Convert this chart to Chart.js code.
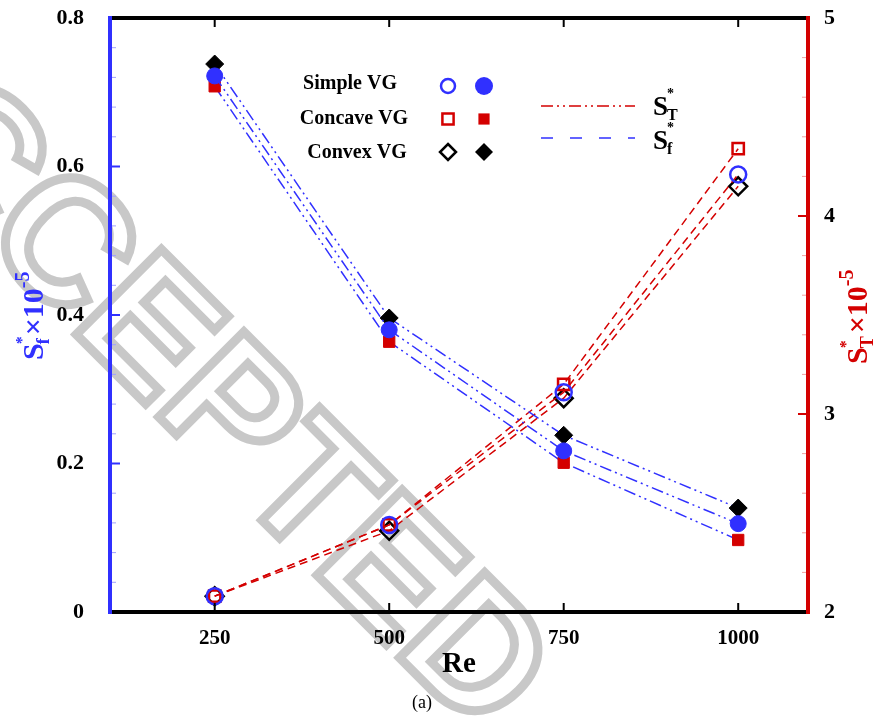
<!DOCTYPE html>
<html>
<head>
<meta charset="utf-8">
<script src="https://cdn.jsdelivr.net/npm/chart.js@4/dist/chart.umd.min.js"></script>
<style>
  body { margin: 0; background: #fff; }
  #wrap { position: relative; width: 887px; height: 726px; }
</style>
</head>
<body>
<div id="wrap"><canvas id="chart" width="887" height="726"></canvas></div>
<script>
// Re values on the x axis
const reValues = [250, 500, 750, 1000];

// S*f x 10^-5 (left axis, filled markers)
const sfSimple  = [0.722, 0.380, 0.217, 0.119];
const sfConcave = [0.708, 0.364, 0.201, 0.097];
const sfConvex  = [0.738, 0.396, 0.238, 0.140];

// S*T x 10^-5 (right axis, hollow markers)
const stSimple  = [2.08, 2.44, 3.11, 4.21];
const stConcave = [2.08, 2.44, 3.15, 4.34];
const stConvex  = [2.08, 2.41, 3.08, 4.15];

const xTicks  = [250, 500, 750, 1000];
const yTicks  = [0, 0.2, 0.4, 0.6, 0.8];
const y2Ticks = [2, 3, 4, 5];

const BLUE = '#3030ff';
const RED = '#d40000';
const SERIF = '"Liberation Serif", "DejaVu Serif", serif';

function pts(arr) {
  return reValues.map((r, i) => ({ x: r, y: arr[i] }));
}

function sfSet(label, arr, style, color) {
  return {
    label: label, data: pts(arr), yAxisID: 'y',
    borderColor: BLUE, borderWidth: 1.5, borderDash: [12, 4, 2, 4, 2, 4],
    pointStyle: style, pointRadius: style === 'rectRot' ? 9 : 8,
    pointBackgroundColor: color, pointBorderColor: color, pointBorderWidth: 1,
    order: 1
  };
}

function stSet(label, arr, style, color) {
  return {
    label: label, data: pts(arr), yAxisID: 'y2',
    borderColor: RED, borderWidth: 1.5, borderDash: [8, 5],
    pointStyle: style, pointRadius: style === 'rectRot' ? 9 : 8,
    pointBackgroundColor: 'rgba(255,255,255,0)', pointBorderColor: color, pointBorderWidth: 2.5,
    order: 2
  };
}

// gray "ACCEPTED" watermark behind the plot
const watermark = {
  id: 'watermark',
  beforeDraw(chart) {
    const ctx = chart.ctx;
    ctx.save();
    ctx.font = 'bold 175px "Liberation Sans", sans-serif';
    ctx.translate(470, 660);
    ctx.rotate(45 * Math.PI / 180);
    const off = ctx.measureText('ACCEPTE').width + ctx.measureText('D').width / 2;
    ctx.textBaseline = 'middle';
    ctx.lineWidth = 9;
    ctx.strokeStyle = '#c8c8c8';
    ctx.strokeText('ACCEPTED', -off, 0);
    ctx.restore();
  }
};

function drawRich(ctx, parts, x, y) {
  // parts: [text, size, dy, extra gap]
  let cx = x;
  parts.forEach(p => {
    ctx.font = 'bold ' + p[1] + 'px ' + SERIF;
    ctx.fillText(p[0], cx, y + p[2]);
    cx += ctx.measureText(p[0]).width + (p[3] || 0);
  });
  return cx - x;
}

function marker(ctx, style, x, y, r, color, filled) {
  ctx.save();
  ctx.beginPath();
  if (style === 'circle') {
    ctx.arc(x, y, r, 0, Math.PI * 2);
  } else if (style === 'rect') {
    ctx.rect(x - r * 0.8, y - r * 0.8, r * 1.6, r * 1.6);
  } else {
    ctx.moveTo(x, y - r); ctx.lineTo(x + r, y); ctx.lineTo(x, y + r); ctx.lineTo(x - r, y); ctx.closePath();
  }
  if (filled) { ctx.fillStyle = color; ctx.fill(); }
  else { ctx.lineWidth = 2.5; ctx.strokeStyle = color; ctx.stroke(); }
  ctx.restore();
}

const frame = {
  id: 'frame',
  afterDraw(chart) {
    const ctx = chart.ctx;
    const a = chart.chartArea;
    const sx = chart.scales.x, sy = chart.scales.y, sy2 = chart.scales.y2;
    ctx.save();

    // inward ticks
    ctx.lineWidth = 2;
    ctx.strokeStyle = '#000';
    xTicks.forEach(v => {
      const px = sx.getPixelForValue(v);
      ctx.beginPath(); ctx.moveTo(px, a.bottom); ctx.lineTo(px, a.bottom - 9); ctx.stroke();
      ctx.beginPath(); ctx.moveTo(px, a.top); ctx.lineTo(px, a.top + 9); ctx.stroke();
    });
    for (let v = 0; v <= 0.8001; v += 0.04) {
      const py = sy.getPixelForValue(v);
      const major = Math.abs(v / 0.2 - Math.round(v / 0.2)) < 1e-6;
      ctx.strokeStyle = major ? BLUE : '#a0a0ff';
      ctx.lineWidth = major ? 2 : 1;
      ctx.beginPath(); ctx.moveTo(a.left, py); ctx.lineTo(a.left + (major ? 10 : 6), py); ctx.stroke();
    }
    for (let v = 2; v <= 5.0001; v += 0.2) {
      const py = sy2.getPixelForValue(v);
      const major = Math.abs(v - Math.round(v)) < 1e-6;
      ctx.strokeStyle = major ? RED : '#f0a0a0';
      ctx.lineWidth = major ? 2 : 1;
      ctx.beginPath(); ctx.moveTo(a.right, py); ctx.lineTo(a.right - (major ? 10 : 6), py); ctx.stroke();
    }

    // thick frame
    ctx.lineWidth = 4;
    ctx.strokeStyle = '#000';
    ctx.beginPath(); ctx.moveTo(a.left, a.top); ctx.lineTo(a.right, a.top); ctx.stroke();
    ctx.beginPath(); ctx.moveTo(a.left, a.bottom); ctx.lineTo(a.right, a.bottom); ctx.stroke();
    ctx.strokeStyle = BLUE;
    ctx.beginPath(); ctx.moveTo(a.left, a.top - 2); ctx.lineTo(a.left, a.bottom + 2); ctx.stroke();
    ctx.strokeStyle = RED;
    ctx.beginPath(); ctx.moveTo(a.right, a.top - 2); ctx.lineTo(a.right, a.bottom + 2); ctx.stroke();

    // legend: marker table
    ctx.textBaseline = 'middle';
    ctx.textAlign = 'center';
    ctx.fillStyle = '#000';
    ctx.font = 'bold 20px ' + SERIF;
    ctx.fillText('Simple VG', 350, 84);
    ctx.fillText('Concave VG', 354, 119);
    ctx.fillText('Convex VG', 357, 153);
    marker(ctx, 'circle', 448, 86, 7, BLUE, false);
    marker(ctx, 'circle', 484, 86, 9, BLUE, true);
    marker(ctx, 'rect', 448, 119, 7, RED, false);
    marker(ctx, 'rect', 484, 119, 7, RED, true);
    marker(ctx, 'diamond', 448, 152, 8, '#000', false);
    marker(ctx, 'diamond', 484, 152, 9, '#000', true);

    // legend: line styles
    ctx.lineWidth = 1.5;
    ctx.strokeStyle = RED;
    ctx.setLineDash([12, 4, 2, 4, 2, 4]);
    ctx.beginPath(); ctx.moveTo(541, 106); ctx.lineTo(635, 106); ctx.stroke();
    ctx.strokeStyle = BLUE;
    ctx.setLineDash([12, 17]);
    ctx.beginPath(); ctx.moveTo(541, 138); ctx.lineTo(635, 138); ctx.stroke();
    ctx.setLineDash([]);
    ctx.textAlign = 'left';
    ctx.fillStyle = '#000';
    drawRich(ctx, [['S', 27, 0, -1], ['*', 14, -14, -7], ['T', 16, 8]], 653, 108);
    drawRich(ctx, [['S', 27, 0, -1], ['*', 14, -14, -7], ['f', 16, 8]], 653, 142);

    // left axis title
    ctx.save();
    ctx.translate(43, 360);
    ctx.rotate(-Math.PI / 2);
    ctx.textBaseline = 'alphabetic';
    ctx.fillStyle = BLUE;
    drawRich(ctx, [['S', 30, 0, -1], ['*', 16, -16, -8], ['f', 18, 6, 3], ['\u00d710', 30, 0], ['-5', 20, -14]], 0, 0);
    ctx.restore();

    // right axis title
    ctx.save();
    ctx.translate(867, 364);
    ctx.rotate(-Math.PI / 2);
    ctx.textBaseline = 'alphabetic';
    ctx.fillStyle = RED;
    drawRich(ctx, [['S', 30, 0, -1], ['*', 16, -16, -8], ['T', 18, 6, 3], ['\u00d710', 30, 0], ['-5', 20, -14]], 0, 0);
    ctx.restore();

    // caption
    ctx.textAlign = 'center';
    ctx.textBaseline = 'middle';
    ctx.fillStyle = '#000';
    ctx.font = '18px ' + SERIF;
    ctx.fillText('(a)', 422, 703);

    ctx.restore();
  }
};

new Chart(document.getElementById('chart'), {
  type: 'line',
  data: {
    datasets: [
      sfSet('Simple VG', sfSimple, 'circle', BLUE),
      sfSet('Concave VG', sfConcave, 'rect', RED),
      sfSet('Convex VG', sfConvex, 'rectRot', '#000'),
      stSet('Simple VG', stSimple, 'circle', BLUE),
      stSet('Concave VG', stConcave, 'rect', RED),
      stSet('Convex VG', stConvex, 'rectRot', '#000')
    ]
  },
  options: {
    responsive: false,
    animation: false,
    layout: { autoPadding: false, padding: { top: 18, left: 0, right: 0, bottom: 0 } },
    plugins: { legend: { display: false }, tooltip: { enabled: false } },
    scales: {
      x: {
        type: 'linear', min: 100, max: 1100,
        afterBuildTicks: s => { s.ticks = xTicks.map(v => ({ value: v })); },
        afterFit: s => { s.height = 114; s.paddingLeft = 0; s.paddingRight = 0; },
        grid: { display: false }, border: { display: false },
        ticks: { color: '#000', padding: 6, callback: v => String(v), font: { family: SERIF, size: 21, weight: 'bold' } },
        title: { display: true, text: 'Re', color: '#000', padding: { top: 0, bottom: 44 }, font: { family: SERIF, size: 29, weight: 'bold' } }
      },
      y: {
        position: 'left', min: 0, max: 0.8,
        afterBuildTicks: s => { s.ticks = yTicks.map(v => ({ value: v })); },
        afterFit: s => { s.width = 110; s.paddingTop = 0; s.paddingBottom = 0; },
        grid: { display: false }, border: { display: false },
        ticks: { color: '#000', padding: 18, font: { family: SERIF, size: 22, weight: 'bold' } }
      },
      y2: {
        position: 'right', min: 2, max: 5,
        afterBuildTicks: s => { s.ticks = y2Ticks.map(v => ({ value: v })); },
        afterFit: s => { s.width = 79; s.paddingTop = 0; s.paddingBottom = 0; },
        grid: { display: false }, border: { display: false },
        ticks: { color: '#000', padding: 8, font: { family: SERIF, size: 22, weight: 'bold' } }
      }
    }
  },
  plugins: [watermark, frame]
});
</script>
</body>
</html>
